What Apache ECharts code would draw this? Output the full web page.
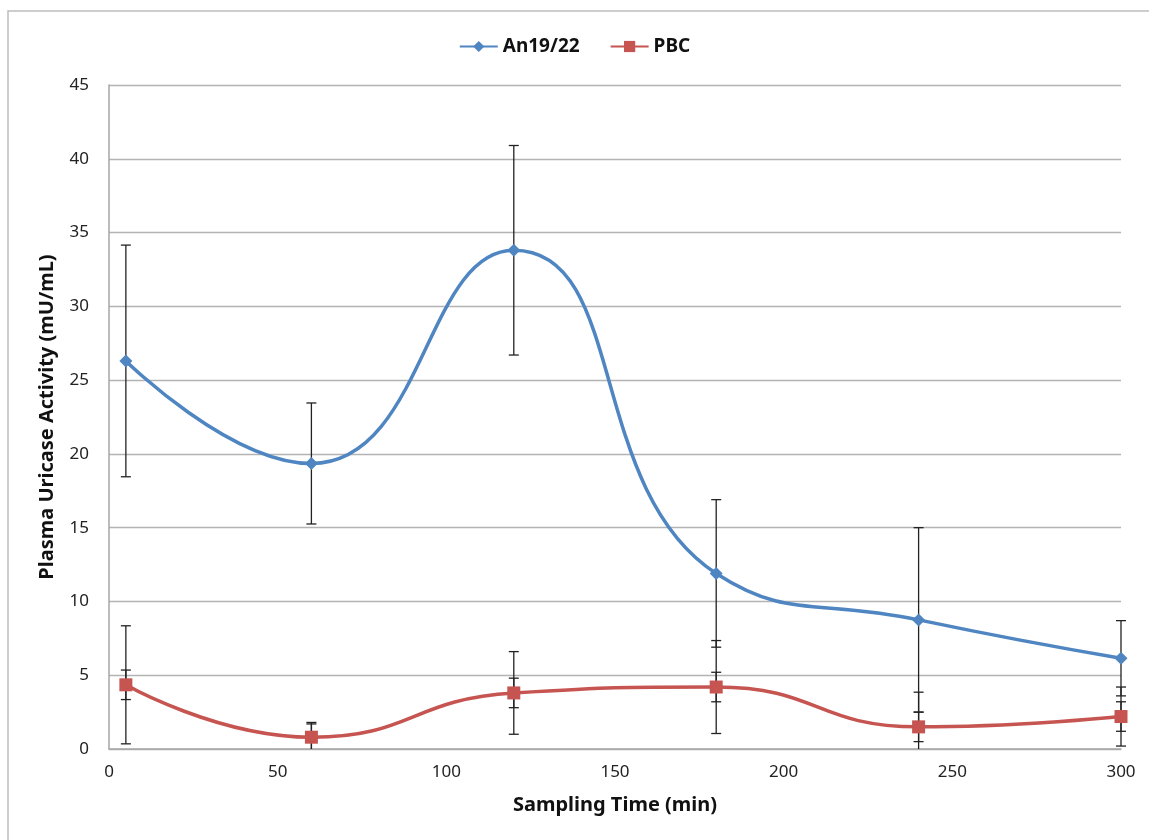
<!DOCTYPE html>
<html>
<head>
<meta charset="utf-8">
<script src="https://cdn.jsdelivr.net/npm/echarts@6/dist/echarts.min.js"></script>
<style>
  html, body { margin: 0; padding: 0; background: #fff; }
  #chart { width: 1149px; height: 840px; }
</style>
</head>
<body>
<div id="chart"></div>
<script>
// Sampling times (min)
const times = [5, 60, 120, 180, 240, 300];
// Plasma uricase activity (mU/mL)
const an1922 = [26.3, 19.35, 33.8, 11.9, 8.75, 6.15];
const an1922Err = [7.85, 4.1, 7.1, 5.0, 6.25, 2.55];
const pbc = [4.35, 0.8, 3.8, 4.2, 1.5, 2.2];
const pbcErrSmall = [1.0, 1.0, 1.0, 1.0, 1.0, 1.0];
const pbcErrLarge = [4.0, 0.9, 2.8, 3.15, 2.35, 2.0];
const yTicks = [0, 45, 5];
const xTicks = [0, 300, 50];

const blue = '#4f86c2';
const red = '#c65551';
const font = '"Noto Sans", "DejaVu Sans", sans-serif';

function pairs(xs, ys) { return xs.map((x, i) => [x, ys[i]]); }
function errRows(xs, ys, es) { return xs.map((x, i) => [x, ys[i] - es[i], ys[i] + es[i]]); }

// Vertical error bar with end caps; the lower end stops at the x axis
function renderErr(params, api) {
  const x = api.value(0);
  const rawLo = api.value(1);
  const lo = api.coord([x, Math.max(rawLo, yTicks[0])]);
  const hi = api.coord([x, api.value(2)]);
  const cap = 5;
  const style = { stroke: '#222', lineWidth: 1.3 };
  const children = [
    { type: 'line', shape: { x1: lo[0], y1: lo[1], x2: hi[0], y2: hi[1] }, style },
    { type: 'line', shape: { x1: hi[0] - cap, y1: hi[1], x2: hi[0] + cap, y2: hi[1] }, style }
  ];
  if (rawLo >= yTicks[0]) {
    children.push({ type: 'line', shape: { x1: lo[0] - cap, y1: lo[1], x2: lo[0] + cap, y2: lo[1] }, style });
  }
  return { type: 'group', children };
}

function errSeries(rows) {
  return {
    type: 'custom',
    renderItem: renderErr,
    data: rows,
    encode: { x: 0, y: [1, 2] },
    clip: false,
    z: 1,
    silent: true
  };
}

const chart = echarts.init(document.getElementById('chart'));
chart.setOption({
  animation: false,
  backgroundColor: '#fff',
  graphic: [{
    type: 'rect',
    shape: { x: 8, y: 11, width: 1200, height: 900 },
    style: { fill: 'none', stroke: '#bdbdbd', lineWidth: 1.5 },
    z: -1
  }],
  legend: {
    top: 32,
    left: 'center',
    itemWidth: 38,
    itemHeight: 14,
    itemGap: 30,
    textStyle: { fontFamily: font, fontWeight: 'bold', fontSize: 19, color: '#111' },
    data: ['An19/22', 'PBC']
  },
  grid: { left: 109, right: 28, top: 85, bottom: 91, containLabel: false },
  xAxis: {
    type: 'value',
    min: xTicks[0], max: xTicks[1], interval: xTicks[2],
    name: 'Sampling Time (min)',
    nameLocation: 'middle',
    nameGap: 46,
    nameTextStyle: { fontFamily: font, fontWeight: 'bold', fontSize: 20, color: '#111' },
    axisLine: { lineStyle: { color: '#a6a6a6', width: 1.5 } },
    axisTick: { show: false },
    axisLabel: { fontFamily: font, fontSize: 17, color: '#222', margin: 15 },
    splitLine: { show: false }
  },
  yAxis: {
    type: 'value',
    min: yTicks[0], max: yTicks[1], interval: yTicks[2],
    name: 'Plasma Uricase Activity (mU/mL)',
    nameLocation: 'middle',
    nameGap: 52,
    nameTextStyle: { fontFamily: font, fontWeight: 'bold', fontSize: 20, color: '#111' },
    axisLine: { show: true, lineStyle: { color: '#a6a6a6', width: 1.5 } },
    axisTick: { show: false },
    axisLabel: { fontFamily: font, fontSize: 17, color: '#222', margin: 20 },
    splitLine: { show: true, lineStyle: { color: '#b3b3b3', width: 1.3 } }
  },
  series: [
    errSeries(errRows(times, an1922, an1922Err)),
    errSeries(errRows(times, pbc, pbcErrLarge)),
    errSeries(errRows(times, pbc, pbcErrSmall)),
    {
      name: 'An19/22',
      type: 'line',
      data: pairs(times, an1922),
      smooth: 0.5,
      symbol: 'diamond',
      symbolSize: 13,
      lineStyle: { color: blue, width: 3.5 },
      itemStyle: { color: blue },
      z: 3
    },
    {
      name: 'PBC',
      type: 'line',
      data: pairs(times, pbc),
      smooth: 0.5,
      symbol: 'rect',
      symbolSize: 13,
      lineStyle: { color: red, width: 3.5 },
      itemStyle: { color: red },
      z: 3
    }
  ]
});
</script>
</body>
</html>
